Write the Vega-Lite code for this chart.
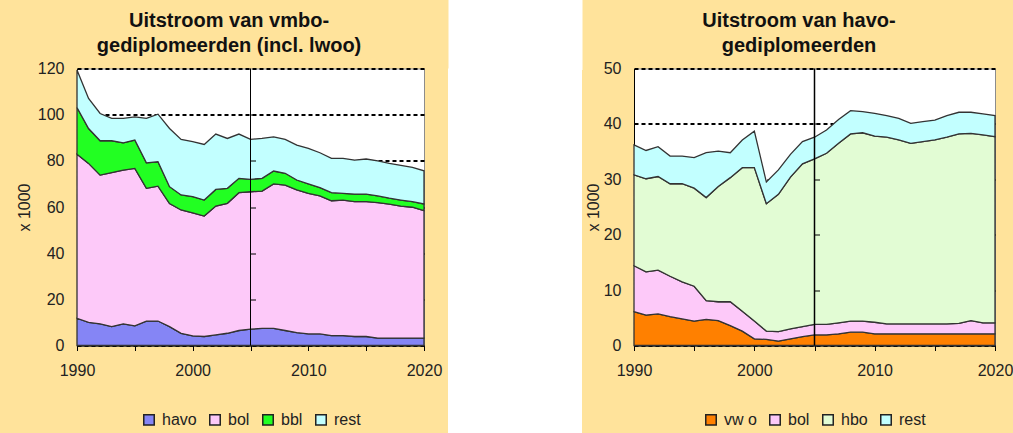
{
  "$schema": "https://vega.github.io/schema/vega-lite/v6.json",
  "background": "#FFE39B",
  "padding": {"left": 15, "top": 9.5, "right": 0, "bottom": 0},
  "spacing": 2,
  "datasets": {
    "vmbo": [
      {"jaar": 1990, "havo": 11.8, "bol": 71.1, "bbl": 20.2, "rest": 16.2},
      {"jaar": 1991, "havo": 10.0, "bol": 68.9, "bbl": 15.1, "rest": 13.0},
      {"jaar": 1992, "havo": 9.4, "bol": 64.4, "bbl": 14.9, "rest": 11.8},
      {"jaar": 1993, "havo": 8.2, "bol": 66.7, "bbl": 13.8, "rest": 9.7},
      {"jaar": 1994, "havo": 9.4, "bol": 66.6, "bbl": 11.8, "rest": 10.6},
      {"jaar": 1995, "havo": 8.5, "bol": 68.2, "bbl": 12.3, "rest": 10.0},
      {"jaar": 1996, "havo": 10.6, "bol": 57.5, "bbl": 11.0, "rest": 19.3},
      {"jaar": 1997, "havo": 10.6, "bol": 58.4, "bbl": 10.6, "rest": 20.6},
      {"jaar": 1998, "havo": 8.2, "bol": 53.3, "bbl": 7.3, "rest": 25.2},
      {"jaar": 1999, "havo": 5.3, "bol": 53.4, "bbl": 6.5, "rest": 24.1},
      {"jaar": 2000, "havo": 4.2, "bol": 53.3, "bbl": 7.0, "rest": 23.8},
      {"jaar": 2001, "havo": 3.9, "bol": 52.2, "bbl": 6.9, "rest": 24.1},
      {"jaar": 2002, "havo": 4.6, "bol": 55.8, "bbl": 7.2, "rest": 24.0},
      {"jaar": 2003, "havo": 5.3, "bol": 56.3, "bbl": 6.5, "rest": 21.6},
      {"jaar": 2004, "havo": 6.5, "bol": 59.7, "bbl": 6.2, "rest": 19.2},
      {"jaar": 2005, "havo": 7.1, "bol": 59.5, "bbl": 5.4, "rest": 17.3},
      {"jaar": 2006, "havo": 7.4, "bol": 59.5, "bbl": 5.5, "rest": 17.3},
      {"jaar": 2007, "havo": 7.4, "bol": 62.6, "bbl": 5.6, "rest": 14.8},
      {"jaar": 2008, "havo": 6.5, "bol": 63.0, "bbl": 5.1, "rest": 14.7},
      {"jaar": 2009, "havo": 5.6, "bol": 61.8, "bbl": 4.3, "rest": 15.1},
      {"jaar": 2010, "havo": 5.0, "bol": 60.9, "bbl": 4.1, "rest": 15.4},
      {"jaar": 2011, "havo": 5.0, "bol": 59.8, "bbl": 3.6, "rest": 15.1},
      {"jaar": 2012, "havo": 4.3, "bol": 58.4, "bbl": 3.5, "rest": 14.9},
      {"jaar": 2013, "havo": 4.3, "bol": 58.7, "bbl": 2.9, "rest": 15.2},
      {"jaar": 2014, "havo": 3.9, "bol": 58.4, "bbl": 3.3, "rest": 14.7},
      {"jaar": 2015, "havo": 3.9, "bol": 58.4, "bbl": 3.3, "rest": 15.2},
      {"jaar": 2016, "havo": 3.2, "bol": 58.7, "bbl": 2.9, "rest": 15.2},
      {"jaar": 2017, "havo": 3.2, "bol": 58.0, "bbl": 2.6, "rest": 15.1},
      {"jaar": 2018, "havo": 3.2, "bol": 57.2, "bbl": 2.6, "rest": 15.0},
      {"jaar": 2019, "havo": 3.2, "bol": 56.7, "bbl": 2.4, "rest": 14.9},
      {"jaar": 2020, "havo": 3.2, "bol": 55.2, "bbl": 2.9, "rest": 14.4}
    ],
    "havo": [
      {"jaar": 1990, "vw o": 6.1, "bol": 8.3, "hbo": 16.4, "rest": 5.4},
      {"jaar": 1991, "vw o": 5.5, "bol": 7.8, "hbo": 16.8, "rest": 5.1},
      {"jaar": 1992, "vw o": 5.7, "bol": 7.9, "hbo": 16.9, "rest": 5.4},
      {"jaar": 1993, "vw o": 5.2, "bol": 7.3, "hbo": 16.7, "rest": 5.0},
      {"jaar": 1994, "vw o": 4.8, "bol": 6.7, "hbo": 17.7, "rest": 5.0},
      {"jaar": 1995, "vw o": 4.4, "bol": 6.3, "hbo": 17.7, "rest": 5.5},
      {"jaar": 1996, "vw o": 4.7, "bol": 3.4, "hbo": 18.6, "rest": 8.1},
      {"jaar": 1997, "vw o": 4.5, "bol": 3.4, "hbo": 20.8, "rest": 6.4},
      {"jaar": 1998, "vw o": 3.6, "bol": 4.3, "hbo": 22.4, "rest": 4.5},
      {"jaar": 1999, "vw o": 2.6, "bol": 3.6, "hbo": 25.9, "rest": 5.0},
      {"jaar": 2000, "vw o": 1.2, "bol": 3.2, "hbo": 27.7, "rest": 6.6},
      {"jaar": 2001, "vw o": 1.1, "bol": 1.5, "hbo": 23.0, "rest": 3.9},
      {"jaar": 2002, "vw o": 0.8, "bol": 1.7, "hbo": 24.8, "rest": 4.4},
      {"jaar": 2003, "vw o": 1.2, "bol": 1.8, "hbo": 27.4, "rest": 4.1},
      {"jaar": 2004, "vw o": 1.6, "bol": 1.8, "hbo": 29.4, "rest": 4.0},
      {"jaar": 2005, "vw o": 1.9, "bol": 1.9, "hbo": 29.9, "rest": 3.9},
      {"jaar": 2006, "vw o": 1.9, "bol": 1.9, "hbo": 30.9, "rest": 4.2},
      {"jaar": 2007, "vw o": 2.1, "bol": 2.0, "hbo": 32.4, "rest": 4.3},
      {"jaar": 2008, "vw o": 2.4, "bol": 2.0, "hbo": 33.8, "rest": 4.2},
      {"jaar": 2009, "vw o": 2.4, "bol": 2.0, "hbo": 34.0, "rest": 3.8},
      {"jaar": 2010, "vw o": 2.1, "bol": 2.1, "hbo": 33.6, "rest": 4.1},
      {"jaar": 2011, "vw o": 2.1, "bol": 1.8, "hbo": 33.7, "rest": 3.9},
      {"jaar": 2012, "vw o": 2.1, "bol": 1.8, "hbo": 33.2, "rest": 3.9},
      {"jaar": 2013, "vw o": 2.1, "bol": 1.8, "hbo": 32.6, "rest": 3.6},
      {"jaar": 2014, "vw o": 2.1, "bol": 1.8, "hbo": 32.9, "rest": 3.6},
      {"jaar": 2015, "vw o": 2.1, "bol": 1.8, "hbo": 33.2, "rest": 3.6},
      {"jaar": 2016, "vw o": 2.1, "bol": 1.8, "hbo": 33.7, "rest": 3.9},
      {"jaar": 2017, "vw o": 2.1, "bol": 1.9, "hbo": 34.2, "rest": 3.9},
      {"jaar": 2018, "vw o": 2.1, "bol": 2.4, "hbo": 33.8, "rest": 3.8},
      {"jaar": 2019, "vw o": 2.1, "bol": 2.0, "hbo": 33.9, "rest": 3.8},
      {"jaar": 2020, "vw o": 2.1, "bol": 2.0, "hbo": 33.6, "rest": 3.8}
    ]
  },
  "config": {
    "font": "Liberation Sans",
    "view": {"fill": "white", "stroke": "#8c8c8c", "strokeWidth": 1},
    "axis": {
      "labelFont": "Liberation Sans",
      "labelFontSize": 16,
      "labelColor": "#222",
      "titleFont": "Liberation Sans",
      "titleFontSize": 16,
      "titleFontWeight": "normal",
      "titleColor": "#222",
      "domainColor": "#000",
      "tickColor": "#000"
    },
    "legend": {
      "layout": {"bottom": {"anchor": "middle"}}
    },
    "title": {
      "font": "Liberation Sans",
      "fontSize": 20,
      "fontWeight": "bold",
      "lineHeight": 25.6,
      "color": "#111",
      "offset": 4,
      "anchor": "middle",
      "frame": "bounds"
    }
  },
  "resolve": {"scale": {"color": "independent"}},
  "hconcat": [
    {
      "width": 347,
      "height": 277,
      "title": {"text": ["Uitstroom van vmbo-", "gediplomeerden (incl. lwoo)"]},
      "resolve": {"axis": {"y": "independent"}},
      "layer": [
        {
          "data": {"name": "vmbo"},
          "transform": [
            {"fold": ["havo", "bol", "bbl", "rest"], "as": ["groep", "aantal"]},
            {"window": [{"op": "row_number", "as": "volgorde"}], "groupby": ["jaar"]}
          ],
          "mark": {"type": "area", "stroke": "#333", "strokeWidth": 1.3, "opacity": 1},
          "encoding": {
            "x": {
              "field": "jaar", "type": "quantitative",
              "scale": {"domain": [1990, 2020], "nice": false, "zero": false},
              "axis": {
                "title": null, "grid": false,
                "values": [1990, 1995, 2000, 2005, 2010, 2015, 2020],
                "format": "d",
                "labelExpr": "datum.value % 10 === 0 ? datum.label : ''",
                "tickSize": 5, "labelPadding": 12, "labelFlush": false, "labelOverlap": false
              }
            },
            "y": {
              "field": "aantal", "type": "quantitative", "stack": "zero",
              "scale": {"domain": [0, 120], "nice": false},
              "axis": {
                "title": "x 1000",
                "values": [0, 20, 40, 60, 80, 100, 120],
                "grid": true, "gridDash": [4, 3], "gridColor": "#000", "gridWidth": 2, "gridOpacity": 1,
                "ticks": false, "labelPadding": 13, "titlePadding": 5
              }
            },
            "order": {"field": "volgorde", "type": "quantitative", "sort": "ascending"},
            "color": {
              "field": "groep", "type": "nominal",
              "sort": ["havo", "bol", "bbl", "rest"],
              "scale": {"domain": ["havo", "bol", "bbl", "rest"], "range": ["#8585F5", "#FDC9F9", "#22FF22", "#C2FFFF"]},
              "legend": {
                "title": null, "orient": "bottom", "direction": "horizontal",
                "symbolType": "square", "symbolSize": 110, "symbolStrokeColor": "#222", "symbolStrokeWidth": 1.5,
                "labelFontSize": 16, "labelColor": "#222", "labelOffset": 5, "columnPadding": 9, "offset": 33
              }
            }
          }
        },
        {
          "data": {"values": [{"jaar": 2005}]},
          "mark": {"type": "rule", "color": "#000", "strokeWidth": 1},
          "encoding": {"x": {"field": "jaar", "type": "quantitative"}}
        },
        {
          "data": {"values": [{"jaar": 2005, "aantal": 0}]},
          "mark": {"type": "point", "opacity": 0},
          "encoding": {
            "x": {"field": "jaar", "type": "quantitative"},
            "y": {
              "field": "aantal", "type": "quantitative",
              "axis": {
                "title": null, "labels": false, "domain": false, "grid": false,
                "ticks": true, "tickSize": 5, "tickColor": "#000",
                "values": [20, 40, 60, 80, 100],
                "offset": -173.5, "zindex": 1
              }
            }
          }
        }
      ]
    },
    {
      "width": 134,
      "height": 366,
      "data": {"values": [{}]},
      "mark": {"type": "point", "opacity": 0},
      "encoding": {
        "x": {
          "datum": 0, "type": "quantitative",
          "axis": {
            "orient": "top", "title": null, "labels": false, "ticks": false, "grid": false,
            "domain": true, "domainColor": "white", "domainWidth": 72, "domainCap": "butt", "offset": 35
          }
        }
      },
      "view": {"fill": "white", "stroke": null}
    },
    {
      "width": 361,
      "height": 277,
      "title": {"text": ["Uitstroom van havo-", "gediplomeerden"]},
      "resolve": {"axis": {"y": "independent"}},
      "layer": [
        {
          "data": {"name": "havo"},
          "transform": [
            {"fold": ["vw o", "bol", "hbo", "rest"], "as": ["groep", "aantal"]},
            {"window": [{"op": "row_number", "as": "volgorde"}], "groupby": ["jaar"]}
          ],
          "mark": {"type": "area", "stroke": "#333", "strokeWidth": 1.3, "opacity": 1},
          "encoding": {
            "x": {
              "field": "jaar", "type": "quantitative",
              "scale": {"domain": [1990, 2020], "nice": false, "zero": false},
              "axis": {
                "title": null, "grid": false,
                "values": [1990, 1995, 2000, 2005, 2010, 2015, 2020],
                "format": "d",
                "labelExpr": "datum.value % 10 === 0 ? datum.label : ''",
                "tickSize": 5, "labelPadding": 12, "labelFlush": false, "labelOverlap": false
              }
            },
            "y": {
              "field": "aantal", "type": "quantitative", "stack": "zero",
              "scale": {"domain": [0, 50], "nice": false},
              "axis": {
                "title": "x 1000",
                "values": [0, 10, 20, 30, 40, 50],
                "grid": true, "gridDash": [4, 3], "gridColor": "#000", "gridWidth": 2, "gridOpacity": 1,
                "ticks": false, "labelPadding": 13, "titlePadding": 2
              }
            },
            "order": {"field": "volgorde", "type": "quantitative", "sort": "ascending"},
            "color": {
              "field": "groep", "type": "nominal",
              "sort": ["vw o", "bol", "hbo", "rest"],
              "scale": {"domain": ["vw o", "bol", "hbo", "rest"], "range": ["#FF8000", "#FDC9F9", "#E2FCD4", "#C2FFFF"]},
              "legend": {
                "title": null, "orient": "bottom", "direction": "horizontal",
                "symbolType": "square", "symbolSize": 110, "symbolStrokeColor": "#222", "symbolStrokeWidth": 1.5,
                "labelFontSize": 16, "labelColor": "#222", "labelOffset": 5, "columnPadding": 9, "offset": 33
              }
            }
          }
        },
        {
          "data": {"values": [{"jaar": 2005}]},
          "mark": {"type": "rule", "color": "#000", "strokeWidth": 1.5},
          "encoding": {"x": {"field": "jaar", "type": "quantitative"}}
        },
        {
          "data": {"values": [{"jaar": 2005, "aantal": 0}]},
          "mark": {"type": "point", "opacity": 0},
          "encoding": {
            "x": {"field": "jaar", "type": "quantitative"},
            "y": {
              "field": "aantal", "type": "quantitative",
              "axis": {
                "title": null, "labels": false, "domain": false, "grid": false,
                "ticks": true, "tickSize": 5, "tickColor": "#000",
                "values": [10, 20, 30, 40],
                "offset": -180.5, "zindex": 1
              }
            }
          }
        }
      ]
    }
  ]
}
